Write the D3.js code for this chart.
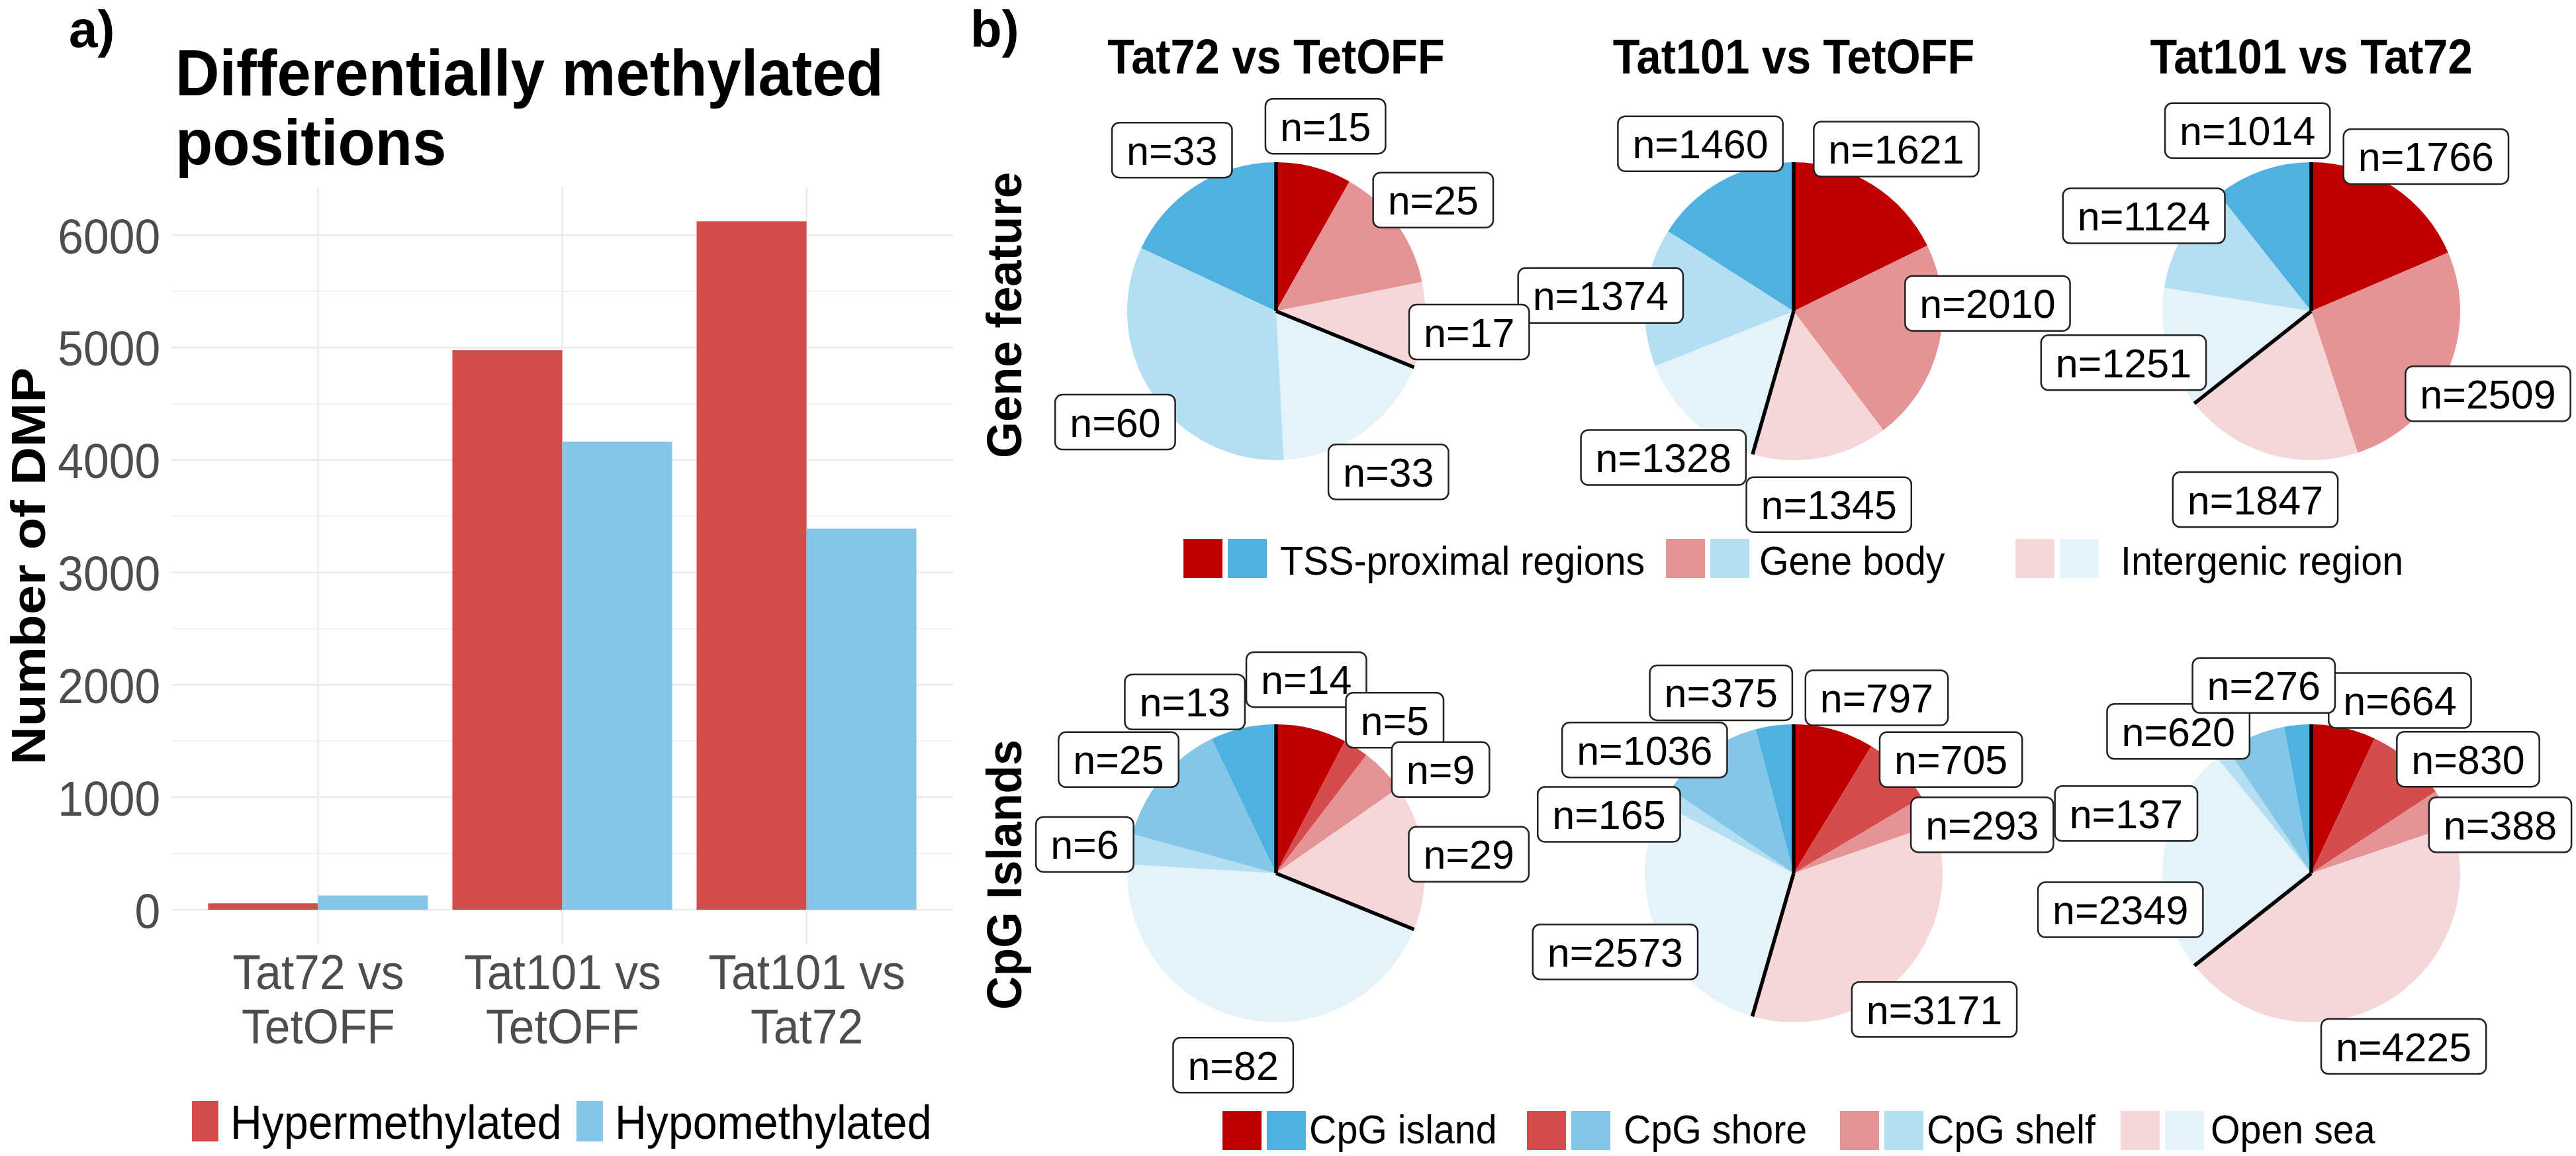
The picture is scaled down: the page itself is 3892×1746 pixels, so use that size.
<!DOCTYPE html>
<meta charset="utf-8">
<script src="https://d3js.org/d3.v7.min.js"></script>
<style>
  body { margin: 0; background: #fff; }
  svg { display: block; font-family: "Liberation Sans", Arial, sans-serif; }
</style>
<body>
<script>

  // ---- data ----
  var comparisons = ["Tat72 vs TetOFF", "Tat101 vs TetOFF", "Tat101 vs Tat72"];
  var barTickLines = [["Tat72 vs", "TetOFF"], ["Tat101 vs", "TetOFF"], ["Tat101 vs", "Tat72"]];
  var directions = ["Hypermethylated", "Hypomethylated"];
  var hyperCounts = [57, 4976, 6122];
  var hypoCounts = [126, 4162, 3389];
  var yTicks = [0, 1000, 2000, 3000, 4000, 5000, 6000];

  var geneCategories = ["TSS-proximal regions", "Gene body", "Intergenic region"];
  var geneHyper = [[15, 25, 17], [1621, 2010, 1345], [1766, 2509, 1847]];
  var geneHypo  = [[33, 60, 33], [1460, 1374, 1328], [1014, 1124, 1251]];

  var cpgCategories = ["CpG island", "CpG shore", "CpG shelf", "Open sea"];
  var cpgHyper = [[14, 5, 9, 29], [797, 705, 293, 3171], [664, 830, 388, 4225]];
  var cpgHypo  = [[13, 25, 6, 82], [375, 1036, 165, 2573], [276, 620, 137, 2349]];

  // ---- styles / layout ----
  var barColors = {"Hypermethylated": "#D64B4B", "Hypomethylated": "#84C6E8"};
  var geneHyperColors = ["#C00000", "#E59394", "#F6D7D7"];
  var geneHypoColors  = ["#4FB1DF", "#B4DEF1", "#E4F3FA"];
  var cpgHyperColors = ["#C00000", "#D64B4B", "#E59394", "#F6D7D7"];
  var cpgHypoColors  = ["#4FB1DF", "#84C6E8", "#B4DEF1", "#E4F3FA"];

  // label nudges (repel-like adjustments), in slice order hyper..., hypo reversed
  var geneNudge = [
    [[0,0],[0,0],[0,0],[0,0],[0,0],[0,0]],
    [[0,0],[8,-84],[0,0],[0,0],[0,0],[0,0]],
    [[12,7],[0,0],[0,0],[0,0],[0,0],[0,0]]
  ];
  var cpgNudge = [
    [[-24,-12],[22,12],[37,42],[0,0],[0,0],[0,0],[-13,12],[-73,23]],
    [[46,13],[29,30],[19,46],[0,0],[0,0],[-28,58],[-56,49],[-72,14]],
    [[70,21],[45,45],[22,51],[0,0],[3,83],[-105,141],[-90,53],[-45,4]]
  ];

  var W = 3892, H = 1746;
  var svg = d3.select("body").append("svg")
      .attr("width", W).attr("height", H);
  svg.append("rect").attr("width", W).attr("height", H).attr("fill", "#fff");

  function addText(sel, str, x, y, o) {
    var tr = "translate(" + x + "," + y + ")";
    if (o.rotate) tr += " rotate(" + o.rotate + ")";
    if (o.sx) tr += " scale(" + o.sx + ",1)";
    var t = sel.append("text")
      .attr("transform", tr)
      .attr("font-size", o.size)
      .attr("font-weight", o.weight || "normal")
      .attr("text-anchor", o.anchor || "start")
      .attr("fill", o.fill || "#000")
      .text(str);
    if (o.len) t.attr("textLength", o.len).attr("lengthAdjust", "spacingAndGlyphs");
    return t;
  }

  // =========================
  //   panel a : bar chart
  // =========================
  var pa = svg.append("g");
  var panel = {left: 259, right: 1440, top: 283, bottom: 1426};

  var x = d3.scalePoint()
    .domain(comparisons)
    .range([panel.left, panel.right])
    .padding(0.6);
  var step = x.step();
  var xDodge = d3.scaleBand()
    .domain(directions)
    .range([-0.45 * step, 0.45 * step]);

  var y = d3.scaleLinear()
    .domain([0, 6000])
    .range([1374, 355]);

  // gridlines
  var minor = d3.range(500, y.invert(panel.top), 1000);
  pa.selectAll(".minor").data(minor).enter().append("line")
    .attr("x1", panel.left).attr("x2", panel.right)
    .attr("y1", function(d) { return y(d); }).attr("y2", function(d) { return y(d); })
    .attr("stroke", "#EFEFEF").attr("stroke-width", 1.6);
  pa.selectAll(".major").data(yTicks).enter().append("line")
    .attr("x1", panel.left).attr("x2", panel.right)
    .attr("y1", function(d) { return y(d); }).attr("y2", function(d) { return y(d); })
    .attr("stroke", "#EBEBEB").attr("stroke-width", 2.6);
  pa.selectAll(".vgrid").data(comparisons).enter().append("line")
    .attr("x1", function(d) { return x(d); }).attr("x2", function(d) { return x(d); })
    .attr("y1", panel.top).attr("y2", panel.bottom)
    .attr("stroke", "#EBEBEB").attr("stroke-width", 2.6);

  // bars
  var barData = [];
  comparisons.forEach(function(c, i) {
    barData.push({comp: c, dir: "Hypermethylated", value: hyperCounts[i]});
    barData.push({comp: c, dir: "Hypomethylated", value: hypoCounts[i]});
  });
  pa.selectAll(".bar").data(barData).enter().append("rect")
    .attr("x", function(d) { return x(d.comp) + xDodge(d.dir); })
    .attr("width", xDodge.bandwidth())
    .attr("y", function(d) { return y(d.value); })
    .attr("height", function(d) { return y(0) - y(d.value); })
    .attr("fill", function(d) { return barColors[d.dir]; });

  // y axis
  var yAxis = pa.append("g")
    .attr("transform", "translate(" + panel.left + ",0)")
    .call(d3.axisLeft(y).tickValues(yTicks).tickFormat(d3.format("d")).tickSize(0).tickPadding(18));
  yAxis.select(".domain").remove();
  yAxis.selectAll("text")
    .attr("font-size", 75).attr("font-family", "Liberation Sans, Arial, sans-serif")
    .attr("fill", "#4D4D4D").attr("dy", "0.36em")
    .attr("transform", "scale(0.93,1)");

  // x axis (two-line labels)
  var xAxis = pa.append("g")
    .attr("transform", "translate(0," + panel.bottom + ")")
    .call(d3.axisBottom(x).tickSize(0).tickFormat(""));
  xAxis.select(".domain").remove();
  xAxis.selectAll(".tick").each(function(d, i) {
    var g = d3.select(this);
    g.select("text").remove();
    barTickLines[i].forEach(function(line, k) {
      addText(g, line, 0, 68 + k * 82, {size: 74, anchor: "middle", fill: "#4D4D4D", sx: 0.94});
    });
  });

  // titles
  addText(pa, "a)", 104, 71, {size: 78, weight: "bold"});
  addText(pa, "Differentially methylated", 265, 144, {size: 98, weight: "bold", sx: 0.94});
  addText(pa, "positions", 265, 249, {size: 98, weight: "bold", sx: 0.94});
  addText(pa, "Number of DMP", 68, 855, {size: 73, weight: "bold", anchor: "middle", rotate: -90, len: 600});

  // legend a
  var legA = [{x: 290, tx: 348}, {x: 871, tx: 929}];
  directions.forEach(function(dname, i) {
    pa.append("rect").attr("x", legA[i].x).attr("y", 1663).attr("width", 40).attr("height", 61)
      .attr("fill", barColors[dname]);
    addText(pa, dname, legA[i].tx, 1720, {size: 72, sx: 0.92});
  });

  // =========================
  //   panel b : pies
  // =========================
  var pb = svg.append("g");
  var R = 225, labelR = 293;
  var pieX = [1928, 2710, 3492];
  var rowY = [470, 1319];

  addText(pb, "b)", 1466, 71, {size: 78, weight: "bold"});
  comparisons.forEach(function(c, i) {
    addText(pb, c, pieX[i], 111, {size: 75, weight: "bold", anchor: "middle", sx: 0.89});
  });
  addText(pb, "Gene feature", 1543, 476, {size: 75, weight: "bold", anchor: "middle", rotate: -90, len: 432});
  addText(pb, "CpG Islands", 1543, 1321, {size: 75, weight: "bold", anchor: "middle", rotate: -90, len: 408});

  var pie = d3.pie().sort(null).value(function(d) { return d.value; });
  var arc = d3.arc().innerRadius(0).outerRadius(R);

  var rows = [
    {hyper: geneHyper, hypo: geneHypo, cats: geneCategories, hc: geneHyperColors, lc: geneHypoColors, nudge: geneNudge},
    {hyper: cpgHyper, hypo: cpgHypo, cats: cpgCategories, hc: cpgHyperColors, lc: cpgHypoColors, nudge: cpgNudge}
  ];

  var slicesLayer = pb.append("g");
  var labelLayer = pb.append("g");

  rows.forEach(function(row, r) {
    // draw right to left so the left panel's labels sit on top
    [2, 1, 0].forEach(function(i) {
      var slices = [];
      row.cats.forEach(function(cat, k) {
        slices.push({value: row.hyper[i][k], color: row.hc[k]});
      });
      row.cats.slice().reverse().forEach(function(cat, kk) {
        var k = row.cats.length - 1 - kk;
        slices.push({value: row.hypo[i][k], color: row.lc[k]});
      });
      var arcs = pie(slices);
      var g = slicesLayer.append("g")
        .attr("transform", "translate(" + pieX[i] + "," + rowY[r] + ")");
      g.selectAll("path").data(arcs).enter().append("path")
        .attr("d", arc)
        .attr("fill", function(d) { return d.data.color; });

      var boundary = arcs[row.cats.length - 1].endAngle;
      [0, boundary].forEach(function(a) {
        g.append("line")
          .attr("x1", 0).attr("y1", 0)
          .attr("x2", R * Math.sin(a)).attr("y2", -R * Math.cos(a))
          .attr("stroke", "#000").attr("stroke-width", 5.5)
          .attr("stroke-linecap", "butt");
      });

      var lg = labelLayer.append("g")
        .attr("transform", "translate(" + pieX[i] + "," + rowY[r] + ")");
      arcs.forEach(function(d, k) {
        var mid = (d.startAngle + d.endAngle) / 2;
        var nx = row.nudge[i][k][0], ny = row.nudge[i][k][1];
        var cx = labelR * Math.sin(mid) + nx;
        var cy = -labelR * Math.cos(mid) + 4 + ny;
        var box = lg.append("rect");
        var t = addText(lg, "n=" + d.data.value, cx, cy + 22, {size: 61, anchor: "middle"});
        var w = t.node().getComputedTextLength() + 44;
        box.attr("x", cx - w / 2).attr("y", cy - 41.5)
          .attr("width", w).attr("height", 83)
          .attr("rx", 11).attr("ry", 11)
          .attr("fill", "#fff").attr("stroke", "#222").attr("stroke-width", 2.5);
      });
    });
  });

  // legends b
  var legGene = {y: 814, keys: [1788, 2517, 3045], text: [1934, 2658, 3204], base: 868};
  var legCpg = {y: 1678, keys: [1847, 2307, 2780, 3204], text: [1978, 2453, 2911, 3340], base: 1727};
  [[legGene, geneCategories, geneHyperColors, geneHypoColors],
   [legCpg, cpgCategories, cpgHyperColors, cpgHypoColors]].forEach(function(L) {
    var lay = L[0];
    L[1].forEach(function(cat, k) {
      pb.append("rect").attr("x", lay.keys[k]).attr("y", lay.y).attr("width", 59).attr("height", 59)
        .attr("fill", L[2][k]);
      pb.append("rect").attr("x", lay.keys[k] + 67).attr("y", lay.y).attr("width", 59).attr("height", 59)
        .attr("fill", L[3][k]);
      addText(pb, cat, lay.text[k], lay.base, {size: 61, sx: 0.94});
    });
  });

</script>
</body>
